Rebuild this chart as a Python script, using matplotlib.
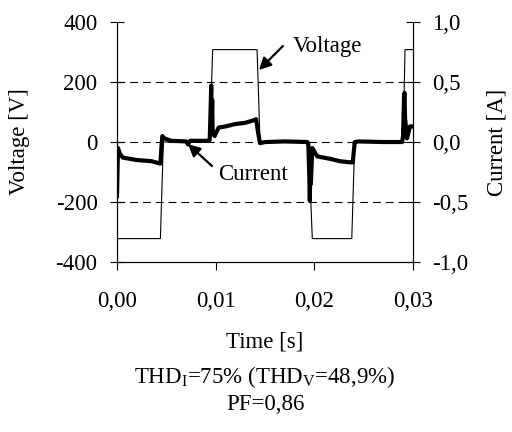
import matplotlib
matplotlib.use("Agg")
import matplotlib.pyplot as plt

plt.rcParams['font.family'] = ['Liberation Serif', 'DejaVu Serif']
plt.rcParams['mathtext.fontset'] = 'custom'
plt.rcParams['mathtext.rm'] = 'Liberation Serif'
plt.rcParams['mathtext.it'] = 'Liberation Serif:italic'
plt.rcParams['font.size'] = 16.5

# voltage waveform (V)
volt_t = [0.0, 0.0044, 0.0047, 0.0094, 0.0097, 0.0142, 0.0145,
          0.0194, 0.0198, 0.0238, 0.0241, 0.0290, 0.0292, 0.0300]
volt_v = [-322, -322, 0, 0, 308, 308, 0,
          0, -322, -322, 0, 0, 308, 308]

# current waveform (A)
curr_t = [0.0, 0.0001, 0.0003, 0.0006, 0.0020, 0.0035, 0.0044,
          0.0045, 0.0046, 0.0048, 0.0055, 0.0070, 0.0072, 0.0074, 0.0093,
          0.0094, 0.0095, 0.00955, 0.0096, 0.00965, 0.0097, 0.0099,
          0.0103, 0.0110, 0.0120, 0.0130, 0.0138, 0.0141, 0.0143, 0.0145,
          0.0150, 0.0170, 0.0193,
          0.0194, 0.0195, 0.01955, 0.0196, 0.01965, 0.0198,
          0.0203, 0.0216, 0.0226, 0.0237, 0.0239, 0.0241, 0.0245,
          0.0270, 0.0289,
          0.0290, 0.0291, 0.02915, 0.0292, 0.0294, 0.0297, 0.0300]
curr_i = [-0.45, -0.05, -0.10, -0.13, -0.15, -0.16, -0.18,
          -0.05, 0.05, 0.03, 0.01, 0.005, -0.02, 0.01, 0.01,
          0.02, 0.30, 0.47, 0.15, 0.35, 0.08, 0.05,
          0.12, 0.13, 0.15, 0.16, 0.18, 0.19, 0.08, -0.01,
          0.0, 0.005, 0.0,
          -0.02, -0.30, -0.49, -0.15, -0.35, -0.05,
          -0.12, -0.14, -0.16, -0.17, -0.17, 0.0, 0.005,
          0.0, 0.0,
          0.05, 0.38, 0.41, 0.20, 0.03, 0.13, 0.13]

volt_ticks = [-400, -200, 0, 200, 400]
volt_labels = ['-400', '-200', '0', '200', '400']
curr_ticks = [-1.0, -0.5, 0.0, 0.5, 1.0]
curr_labels = ['-1,0', '-0,5', '0,0', '0,5', '1,0']
time_ticks = [0.0, 0.01, 0.02, 0.03]
time_labels = ['0,00', '0,01', '0,02', '0,03']

fig = plt.figure(figsize=(5.12, 4.32), dpi=100)
ax = fig.add_axes([0.2285, 0.3935, 0.578, 0.5555])
ax2 = ax.twinx()

ax.plot(volt_t, volt_v, color='black', lw=0.8)
ax2.plot(curr_t, curr_i, color='black', lw=3.0, solid_joinstyle='round')

ax.set_xlim(0, 0.03)
ax.set_ylim(-400, 400)
ax2.set_ylim(-1.0, 1.0)

# dashed reference lines
for y in [-200, 0, 200]:
    ax.axhline(y, color='black', lw=0.8, ls=(0, (7, 4.5)), zorder=0)

ax.set_xticks(time_ticks)
ax.set_xticklabels(time_labels)
ax.set_yticks(volt_ticks)
ax.set_yticklabels(volt_labels)
ax2.set_yticks(curr_ticks)
ax2.set_yticklabels(curr_labels)

ax.tick_params(axis='x', direction='out', length=6, width=0.8, pad=15)
ax.tick_params(axis='y', direction='inout', length=10, width=0.8, pad=9)
ax2.tick_params(axis='y', direction='inout', length=10, width=0.8, pad=9)

for a in (ax, ax2):
    a.spines['top'].set_visible(False)
    for s in ('left', 'right', 'bottom'):
        a.spines[s].set_linewidth(0.8)

ax.set_xlabel('Time [s]', va='center')
ax.xaxis.set_label_coords(0.5, -0.333)
ax.set_ylabel('Voltage [V]', va='center')
ax.yaxis.set_label_coords(-0.328, 0.5)
ax2.set_ylabel('Current [A]', va='center')
ax2.yaxis.set_label_coords(1.284, 0.5)

arrow = dict(arrowstyle='-|>', color='black', lw=1.6,
             mutation_scale=18, shrinkA=0, shrinkB=0)
ax.annotate('', xy=(0.01439, 240), xytext=(0.01682, 320), arrowprops=arrow)
ax.text(0.0178, 320, 'Voltage', va='center', ha='left')
ax.annotate('', xy=(0.0072, -7), xytext=(0.00963, -80), arrowprops=arrow)
ax.text(0.01024, -107, 'Current', va='center', ha='left')

fig.text(0.5176, 0.127, r'THD$_\mathrm{I}$=75% (THD$_\mathrm{V}$=48,9%)',
         ha='center', va='center')
fig.text(0.5176, 0.0625, 'PF=0,86', ha='center', va='center')

fig.savefig('out.png', dpi=100)
